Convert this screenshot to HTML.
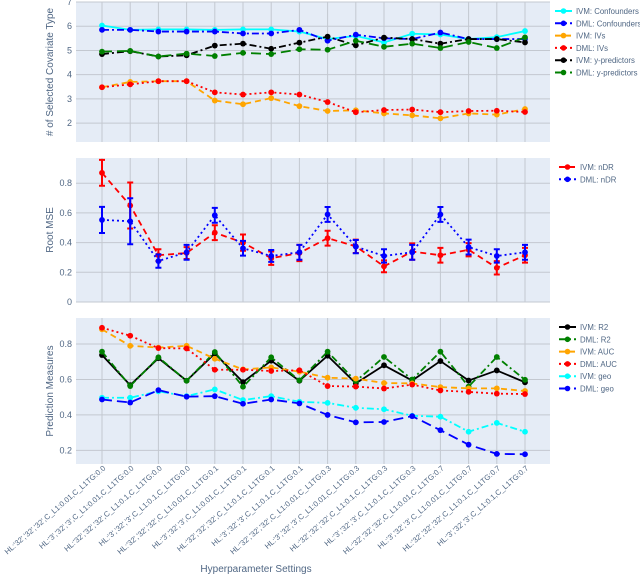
<!DOCTYPE html>
<html><head><meta charset="utf-8">
<style>
html,body{margin:0;padding:0;background:#fff;}
svg{display:block;font-family:"Liberation Sans",sans-serif;}
</style></head>
<body>
<svg id="chart" width="640" height="574" viewBox="0 0 640 574" xmlns="http://www.w3.org/2000/svg"></svg>
<script>
const categories=["HL:'32','32','32',C_L1:0.01,C_L1TG:0.0","HL:'3','32','3',C_L1:0.01,C_L1TG:0.0","HL:'32','32','32',C_L1:0.1,C_L1TG:0.0","HL:'3','32','3',C_L1:0.1,C_L1TG:0.0",
"HL:'32','32','32',C_L1:0.01,C_L1TG:0.1","HL:'3','32','3',C_L1:0.01,C_L1TG:0.1","HL:'32','32','32',C_L1:0.1,C_L1TG:0.1","HL:'3','32','3',C_L1:0.1,C_L1TG:0.1",
"HL:'32','32','32',C_L1:0.01,C_L1TG:0.3","HL:'3','32','3',C_L1:0.01,C_L1TG:0.3","HL:'32','32','32',C_L1:0.1,C_L1TG:0.3","HL:'3','32','3',C_L1:0.1,C_L1TG:0.3",
"HL:'32','32','32',C_L1:0.01,C_L1TG:0.7","HL:'3','32','3',C_L1:0.01,C_L1TG:0.7","HL:'32','32','32',C_L1:0.1,C_L1TG:0.7","HL:'3','32','3',C_L1:0.1,C_L1TG:0.7"];
// top panel
const ivmConf=[6.03,5.85,5.87,5.87,5.85,5.87,5.87,5.78,5.47,5.6,5.33,5.69,5.66,5.47,5.55,5.8];
const dmlConf=[5.85,5.85,5.78,5.78,5.78,5.70,5.70,5.85,5.4,5.65,5.5,5.47,5.74,5.47,5.47,5.47];
const ivmIVs=[3.48,3.7,3.73,3.73,2.93,2.78,3.03,2.7,2.5,2.53,2.4,2.32,2.2,2.4,2.35,2.58];
const dmlIVs=[3.48,3.6,3.73,3.73,3.27,3.18,3.27,3.18,2.87,2.45,2.54,2.56,2.45,2.5,2.51,2.46];
const ivmYp=[4.85,4.97,4.75,4.8,5.2,5.28,5.07,5.32,5.57,5.21,5.53,5.47,5.28,5.47,5.47,5.33];
const dmlYp=[4.95,4.98,4.75,4.87,4.77,4.9,4.85,5.05,5.03,5.4,5.15,5.28,5.1,5.35,5.1,5.54];
const topTicks=[2,3,4,5,6,7];
// middle panel
const ivmNdr=[0.87,0.65,0.315,0.33,0.467,0.40,0.295,0.33,0.43,0.375,0.24,0.34,0.315,0.352,0.23,0.315];
const ivmNdrErr=[0.087,0.155,0.04,0.04,0.05,0.055,0.045,0.055,0.05,0.045,0.04,0.055,0.05,0.045,0.045,0.05];
const dmlNdr=[0.553,0.544,0.276,0.335,0.584,0.362,0.31,0.335,0.59,0.373,0.31,0.335,0.59,0.37,0.31,0.335];
const dmlNdrErr=[0.088,0.155,0.045,0.05,0.05,0.05,0.04,0.05,0.05,0.045,0.045,0.05,0.05,0.05,0.045,0.05];
const midTicks=[0,0.2,0.4,0.6,0.8];
// bottom panel
const ivmR2=[0.738,0.568,0.72,0.593,0.747,0.585,0.706,0.593,0.734,0.578,0.68,0.594,0.704,0.594,0.651,0.584];
const dmlR2=[0.757,0.563,0.725,0.593,0.755,0.559,0.725,0.595,0.757,0.59,0.727,0.6,0.757,0.56,0.727,0.598];
const ivmAUC=[0.883,0.79,0.78,0.79,0.717,0.657,0.668,0.644,0.61,0.605,0.58,0.578,0.557,0.55,0.55,0.535];
const dmlAUC=[0.892,0.847,0.777,0.775,0.655,0.655,0.648,0.652,0.563,0.56,0.549,0.571,0.538,0.53,0.52,0.518];
const ivmGeo=[0.497,0.497,0.533,0.506,0.544,0.484,0.506,0.474,0.468,0.44,0.432,0.395,0.39,0.305,0.355,0.305];
const dmlGeo=[0.487,0.47,0.54,0.503,0.506,0.463,0.487,0.465,0.4,0.358,0.36,0.393,0.314,0.232,0.18,0.178];
const botTicks=[0.2,0.4,0.6,0.8];

const NS="http://www.w3.org/2000/svg";
const svg=document.getElementById('chart');
function el(tag,attrs,parent){const e=document.createElementNS(NS,tag);for(const k in attrs)e.setAttribute(k,attrs[k]);(parent||svg).appendChild(e);return e;}
const PL=76,PR=550,X0=102,XS=28.2;
function xPos(i){return X0+i*XS;}
const DASH={solid:"",dash:"6,4",dot:"2,3",dashdot:"7,3,2,3",longdash:"10,5"};

function panel(name,top,bot,ymin,ymax,ticks,fmt,title,series,legendX,legendY){
  const g=el('g',{});
  
  
  const y=v=>bot-(v-ymin)/(ymax-ymin)*(bot-top);
  const bg=el('rect',{x:PL,y:top,width:PR-PL,height:bot-top,fill:'#e5ecf6'},g);
  
  
  categories.forEach((c,i)=>{el('line',{x1:xPos(i),x2:xPos(i),y1:top,y2:bot,stroke:'#c3c8d0','stroke-width':1},g);});
  ticks.forEach(t=>{
    el('line',{x1:PL,x2:PR,y1:y(t),y2:y(t),stroke:'#c3c8d0','stroke-width':1},g);
    const tx=el('text',{x:PL-4,y:y(t)+3,'font-size':9,fill:'#506784','text-anchor':'end'},g);
    tx.textContent=fmt(t);
    
    
  });
  const cy=(top+bot)/2;
  const tt=el('text',{x:0,y:0,transform:`translate(53,${cy}) rotate(-90)`,'font-size':10,fill:'#506784','text-anchor':'middle'},g);
  tt.textContent=title;
  
  
  series.forEach((s,si)=>{
    const sg=el('g',{},g);
    
    
    if(s.err){s.vals.forEach((v,i)=>{const x=xPos(i),a=y(v+s.err[i]),b=y(v-s.err[i]);
      el('path',{d:`M${x},${a}V${b}M${x-3},${a}H${x+3}M${x-3},${b}H${x+3}`,stroke:s.color,'stroke-width':2,fill:'none'},sg);});}
    const d=s.vals.map((v,i)=>(i?'L':'M')+xPos(i)+','+y(v)).join('');
    el('path',{d:d,fill:'none',stroke:s.color,'stroke-width':1.8,'stroke-dasharray':DASH[s.dash]},sg);
    s.vals.forEach((v,i)=>{const m=el('circle',{cx:xPos(i),cy:y(v),r:2.9,fill:s.color},sg);
      
      });
    const ly=legendY+si*12.3;
    const lg=el('g',{},svg);
    
    
    el('line',{x1:legendX,x2:legendX+17,y1:ly,y2:ly,stroke:s.color,'stroke-width':2,'stroke-dasharray':DASH[s.dash]},lg);
    el('circle',{cx:legendX+8.5,cy:ly,r:2.8,fill:s.color},lg);
    const lt=el('text',{x:legendX+21,y:ly+3,'font-size':7.8,fill:'#506784'},lg);
    lt.textContent=s.label;
  });
}
panel('selected-covariates',2,142,1.22,7,topTicks,t=>String(t),'# of Selected Covariate Type',[
 {id:'ivm-confounders',label:'IVM: Confounders',vals:ivmConf,color:'#00ffff',dash:'solid'},
 {id:'dml-confounders',label:'DML: Confounders',vals:dmlConf,color:'#0000ff',dash:'dashdot'},
 {id:'ivm-ivs',label:'IVM: IVs',vals:ivmIVs,color:'#ffa500',dash:'dash'},
 {id:'dml-ivs',label:'DML: IVs',vals:dmlIVs,color:'#ff0000',dash:'dot'},
 {id:'ivm-y-predictors',label:'IVM: y-predictors',vals:ivmYp,color:'#000000',dash:'dashdot'},
 {id:'dml-y-predictors',label:'DML: y-predictors',vals:dmlYp,color:'#008000',dash:'longdash'}],555,11);
panel('root-mse',158,302,0,0.97,midTicks,t=>t===0?'0':t.toFixed(1),'Root MSE',[
 {id:'ivm-ndr',label:'IVM: nDR',vals:ivmNdr,err:ivmNdrErr,color:'#ff0000',dash:'dash'},
 {id:'dml-ndr',label:'DML: nDR',vals:dmlNdr,err:dmlNdrErr,color:'#0000ff',dash:'dot'}],559,167);
panel('prediction-measures',318,464,0.123,0.947,botTicks,t=>t.toFixed(1),'Prediction Measures',[
 {id:'ivm-r2',label:'IVM: R2',vals:ivmR2,color:'#000000',dash:'solid'},
 {id:'dml-r2',label:'DML: R2',vals:dmlR2,color:'#008000',dash:'dashdot'},
 {id:'ivm-auc',label:'IVM: AUC',vals:ivmAUC,color:'#ffa500',dash:'dash'},
 {id:'dml-auc',label:'DML: AUC',vals:dmlAUC,color:'#ff0000',dash:'dot'},
 {id:'ivm-geo',label:'IVM: geo',vals:ivmGeo,color:'#00ffff',dash:'dashdot'},
 {id:'dml-geo',label:'DML: geo',vals:dmlGeo,color:'#0000ff',dash:'longdash'}],559,327);
categories.forEach((c,i)=>{
  const t=el('text',{x:0,y:0,transform:`translate(${xPos(i)+4},${469}) rotate(-41)`,'font-size':7.6,fill:'#506784','text-anchor':'end'});
  t.textContent=c;
  
  
});
const xt=el('text',{x:256,y:572,'font-size':10,fill:'#506784','text-anchor':'middle'});
xt.textContent='Hyperparameter Settings';


</script>
</body></html>
